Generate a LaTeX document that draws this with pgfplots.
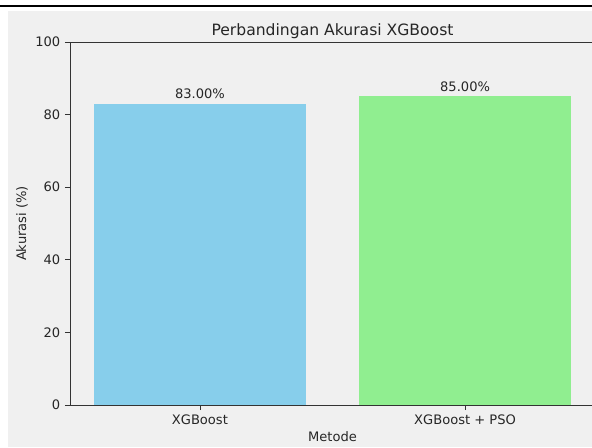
\documentclass[border=0pt]{standalone}
\usepackage{pgfplots}
\pgfplotsset{compat=1.18}
\usepackage{fontspec}
\setmainfont{DejaVu Sans}
\definecolor{bg}{HTML}{F0F0F0}
\definecolor{skyblue}{HTML}{87CEEB}
\definecolor{lgreen}{HTML}{90EE90}
\definecolor{txt}{HTML}{262626}
\begin{document}
\begin{tikzpicture}
\path[use as bounding box] (0,0) rectangle (444pt,-335.25pt);
\clip (0,0) rectangle (444pt,-335.25pt);
\fill[white] (0,0) rectangle (444pt,-335.25pt);
\fill[black] (0,-3.5pt) rectangle (444pt,-5.5pt);
\fill[bg] (6pt,-8.25pt) rectangle (444pt,-335.25pt);
\begin{axis}[
  at={(52.5pt,-303.75pt)}, anchor=south west,
  scale only axis, width=393.75pt, height=272.25pt,
  xmin=-0.49, xmax=1.49, ymin=0, ymax=100,
  ybar, bar width=0.8,
  xtick={0,1}, xticklabels={XGBoost, XGBoost + PSO},
  ytick={0,20,40,60,80,100},
  tick align=outside, xtick pos=bottom, ytick pos=left,
  major tick length=3.75pt,
  axis line style={black!80, line width=0.6pt},
  tick style={black!80, line width=0.6pt},
  axis background/.style={fill=bg},
  ticklabel style={font=\fontsize{9.8}{11}\selectfont, text=txt},
  /pgf/number format/assume math mode=true,
  title={Perbandingan Akurasi XGBoost},
  title style={at={([yshift=2pt]rel axis cs:0.5,1)}, anchor=center, font=\fontsize{11.7}{13}\selectfont, text=txt},
  xlabel={Metode},
  xlabel style={at={([yshift=-24pt]rel axis cs:0.5,0)}, anchor=center, font=\fontsize{9.8}{11}\selectfont, text=txt},
  ylabel={Akurasi (\%)},
  ylabel style={at={([xshift=-36pt]rel axis cs:0,0.5)}, anchor=center, rotate=0, font=\fontsize{9.8}{11}\selectfont, text=txt},
  nodes near coords={\pgfmathprintnumber[fixed,fixed zerofill,precision=2]{\pgfplotspointmeta}\%},
  nodes near coords style={font=\fontsize{9.8}{11}\selectfont, text=txt, anchor=south, yshift=0pt},
  every node near coord/.append style={/pgf/number format/assume math mode=true},
]
\addplot[fill=skyblue, draw=none, bar shift=0] coordinates {(0,83)};
\addplot[fill=lgreen, draw=none, bar shift=0] coordinates {(1,85)};
\end{axis}
\end{tikzpicture}
\end{document}
